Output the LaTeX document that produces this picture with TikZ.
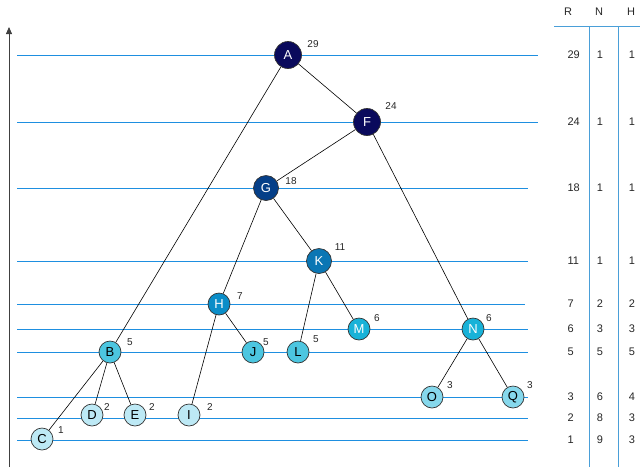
\documentclass[tikz,border=0pt]{standalone}
\usepackage{fontspec}
\setmainfont{Liberation Sans}
\usetikzlibrary{arrows.meta}
\definecolor{hl}{HTML}{1E8FE0}
\definecolor{tl}{HTML}{4A9FD8}
\definecolor{c1}{HTML}{0A0A5C}
\definecolor{c2}{HTML}{053F88}
\definecolor{c3}{HTML}{0A76B4}
\definecolor{c4}{HTML}{0A8DC8}
\definecolor{c5}{HTML}{18B2D8}
\definecolor{c6}{HTML}{4CC6E0}
\definecolor{c7}{HTML}{86D8EC}
\definecolor{c8}{HTML}{BDE9F5}
\tikzset{
  nd/.style={circle,draw=black!80,line width=0.7pt,inner sep=0pt,font=\fontsize{13}{13}\selectfont},
  big/.style={nd,minimum size=27pt,text=white},
  mid/.style={nd,minimum size=25pt,text=white},
  sml/.style={nd,minimum size=22pt,text=black},
  smw/.style={nd,minimum size=22pt,text=white},
  lab/.style={font=\fontsize{10}{10}\selectfont,text=black!85},
  tab/.style={font=\fontsize{11}{11}\selectfont,text=black!85},
  lev/.style={draw=hl,line width=0.8pt},
  edge/.style={draw=black,line width=0.6pt}
}
\begin{document}
\begin{tikzpicture}[x=1pt,y=-1pt]
\useasboundingbox (0,0) rectangle (640,467);
% axis
\draw[line width=0.8pt,black!75,-{Triangle[length=7pt,width=6pt]}] (9,467) coordinate (ax0) -- (9,27) coordinate (ax1);
% level lines
\foreach \y/\r in {55/538,122/538,188/528,261/528,304/525,329/528,352/528,397/528,418/528,440/528}
  \draw[lev] (17,\y) -- (\r,\y);
% table
\draw[tl,line width=0.9pt] (554,26) -- (640,26);
\draw[tl,line width=0.8pt] (589,26) -- (589,467);
\draw[tl,line width=0.8pt] (618,26) -- (618,467);
\node[tab] (hR) at (568,12) {R};
\node[tab] (hN) at (599,12) {N};
\node[tab] (hH) at (631,12) {H};
\foreach \y/\r/\n/\h in {55/29/1/1,122/24/1/1,188/18/1/1,261/11/1/1,304/7/2/2,329/6/3/3,352/5/5/5,397/3/6/4,418/2/8/3,440/1/9/3}{
  \node[tab,anchor=west] at (564,\y) {\r};
  \node[tab] at (600,\y) {\n};
  \node[tab] at (632,\y) {\h};
}
% nodes
\node[big,fill=c1] (A) at (288,55) {A};
\node[big,fill=c1] (F) at (367,122) {F};
\node[mid,fill=c2] (G) at (266,188) {G};
\node[mid,fill=c3] (K) at (319,261) {K};
\node[smw,fill=c4] (H) at (219,304) {H};
\node[smw,fill=c5] (M) at (359,329) {M};
\node[smw,fill=c5] (N) at (473,329) {N};
\node[sml,fill=c6] (B) at (110,352) {B};
\node[sml,fill=c6] (J) at (253,352) {J};
\node[sml,fill=c6] (L) at (298,352) {L};
\node[sml,fill=c7] (O) at (432,397) {O};
\node[sml,fill=c7] (Q) at (513,397) {Q};
\node[sml,fill=c8] (D) at (92,415) {D};
\node[sml,fill=c8] (E) at (135,415) {E};
\node[sml,fill=c8] (I) at (189,415) {I};
\node[sml,fill=c8] (C) at (42,439) {C};
% labels
\node[lab] (lA) at (313,44) {29};
\node[lab] (lF) at (391,106) {24};
\node[lab] (lG) at (291,181) {18};
\node[lab] (lK) at (340,247) {11};
\node[lab] (lH) at (240,296) {7};
\node[lab] (lM) at (377,318) {6};
\node[lab] (lN) at (489,318) {6};
\node[lab] (lB) at (130,342) {5};
\node[lab] (lJ) at (266,342) {5};
\node[lab] (lL) at (316,339) {5};
\node[lab] (lO) at (450,385) {3};
\node[lab] (lQ) at (530,385) {3};
\node[lab] (lD) at (107,407) {2};
\node[lab] (lE) at (152,407) {2};
\node[lab] (lI) at (210,407) {2};
\node[lab] (lC) at (61,430) {1};
% edges
\foreach \a/\b in {A/B,A/F,F/G,F/N,G/H,G/K,K/L,K/M,H/I,H/J,B/C,B/D,B/E,N/O,N/Q}
  \draw[edge] (\a) -- (\b);
\end{tikzpicture}
\end{document}
